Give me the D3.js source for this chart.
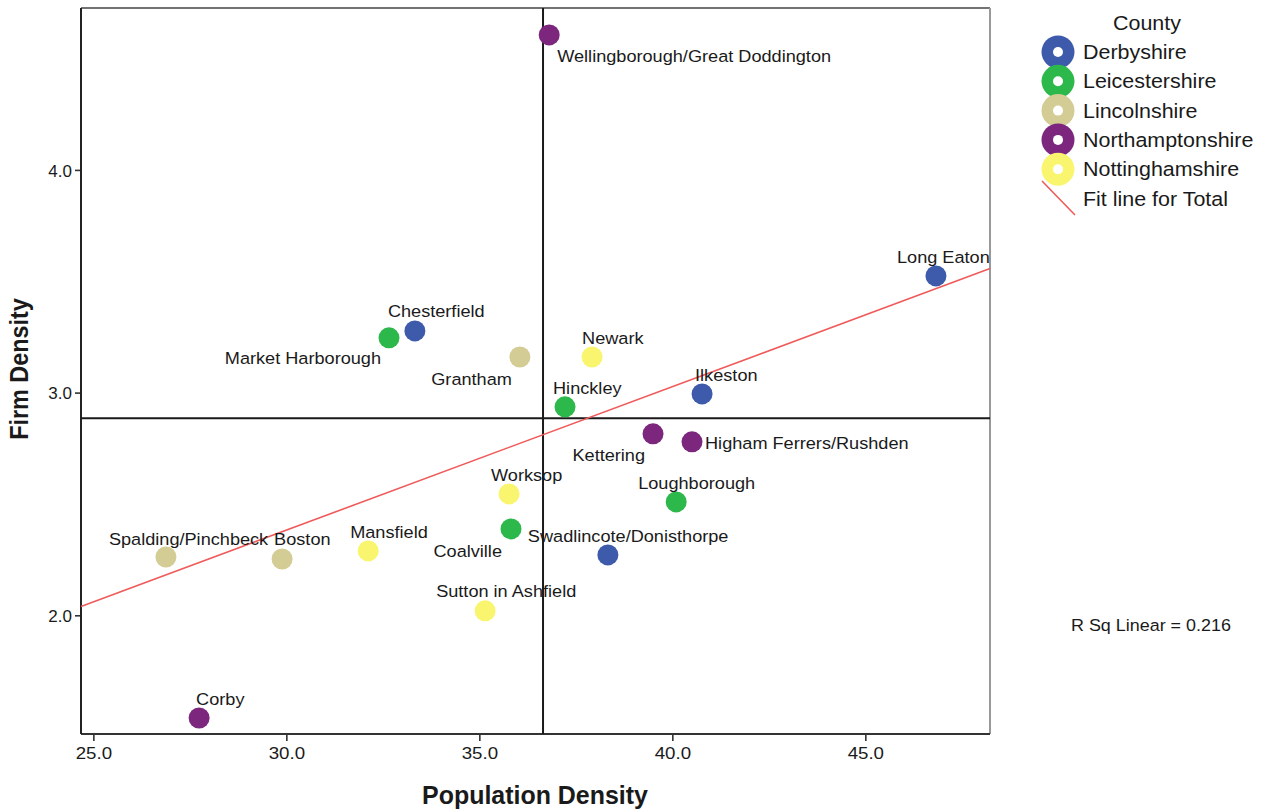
<!DOCTYPE html>
<html>
<head>
<meta charset="utf-8">
<script src="https://cdn.jsdelivr.net/npm/d3@7"></script>
<style>
  html, body { margin: 0; padding: 0; background: #fff; }
  svg { display: block; }
  text { font-family: "Liberation Sans", Arial, sans-serif; fill: #1a1a1a; }
</style>
</head>
<body>
<svg id="chart" width="1264" height="812"></svg>
<script>
// Towns of the East Midlands: population density vs firm density
const towns = ["Wellingborough/Great Doddington", "Long Eaton", "Chesterfield", "Market Harborough",
  "Grantham", "Newark", "Hinckley", "Ilkeston", "Kettering", "Higham Ferrers/Rushden",
  "Worksop", "Loughborough", "Coalville", "Swadlincote/Donisthorpe", "Spalding/Pinchbeck",
  "Boston", "Mansfield", "Sutton in Ashfield", "Corby"];
const county = ["Northamptonshire", "Derbyshire", "Derbyshire", "Leicestershire",
  "Lincolnshire", "Nottinghamshire", "Leicestershire", "Derbyshire", "Northamptonshire", "Northamptonshire",
  "Nottinghamshire", "Leicestershire", "Leicestershire", "Derbyshire", "Lincolnshire",
  "Lincolnshire", "Nottinghamshire", "Nottinghamshire", "Northamptonshire"];
const populationDensity = [36.81, 46.83, 33.33, 32.66, 36.05, 37.92, 37.22, 40.77, 39.50, 40.51,
  35.77, 40.10, 35.82, 38.33, 26.88, 29.89, 32.12, 35.15, 27.74];
const firmDensity = [4.606, 3.524, 3.277, 3.246, 3.160, 3.160, 2.936, 2.994, 2.815, 2.779,
  2.545, 2.509, 2.388, 2.271, 2.262, 2.253, 2.289, 2.020, 1.539];

const counties = ["Derbyshire", "Leicestershire", "Lincolnshire", "Northamptonshire", "Nottinghamshire"];
const xTicks = [25, 30, 35, 40, 45];
const yTicks = [2, 3, 4];
// reference lines (overall means of the wider region)
const xReference = 36.65;
const yReference = 2.885;

// label placement relative to each point: [dx, dy, anchor]
const labelPlacement = [[8, 27, "start"], [-39, -13, "start"], [-27, -14, "start"], [-8, 26, "end"],
  [-8, 28, "end"], [-10, -13, "start"], [-12, -13, "start"], [-7, -13, "start"], [-8, 27, "end"], [13, 7, "start"],
  [-18, -13, "start"], [-38, -13, "start"], [-9, 28, "end"], [-80, -13, "start"], [-57, -12, "start"],
  [-8, -14, "start"], [-18, -13, "start"], [-49, -14, "start"], [-3, -13, "start"]];

const colour = d3.scaleOrdinal()
  .domain(counties)
  .range(["#3e5aab", "#2db84b", "#d3cc95", "#7c267e", "#faf56e"]);

const SX = 1.1; // horizontal stretch of the typography
const svg = d3.select("#chart");
const plot = { left: 81, top: 8, right: 990, bottom: 734 };

const x = d3.scaleLinear().domain([24.68, 48.23]).range([plot.left, plot.right]);
const y = d3.scaleLinear().domain([1.467, 4.727]).range([plot.bottom, plot.top]);

function stretchedText(sel, tx, ty, str, size, anchor, weight, sx) {
  const g = sel.append("g").attr("transform", `translate(${tx},${ty})`);
  const t = g.append("text")
    .attr("transform", `scale(${sx || SX},1)`)
    .attr("text-anchor", anchor || "start")
    .style("font-size", size + "px")
    .text(str);
  if (weight) t.style("font-weight", weight);
  return g;
}

// Axes
const xAxis = svg.append("g")
  .attr("transform", `translate(0,${plot.bottom})`)
  .call(d3.axisBottom(x).tickValues(xTicks).tickFormat(d3.format(".1f")).tickSize(7).tickPadding(6));
const yAxis = svg.append("g")
  .attr("transform", `translate(${plot.left},0)`)
  .call(d3.axisLeft(y).tickValues(yTicks).tickFormat(d3.format(".1f")).tickSize(6).tickPadding(3));
[xAxis, yAxis].forEach(a => {
  a.select(".domain").remove();
  a.selectAll(".tick line").attr("stroke", "#333").attr("stroke-width", 1.6);
  a.selectAll(".tick text")
    .style("font-size", "17px")
    .style("font-family", "'Liberation Sans', Arial, sans-serif")
    .attr("fill", "#1a1a1a");
});
xAxis.selectAll(".tick text").attr("transform", `scale(${SX},1)`);
yAxis.selectAll(".tick text").attr("dy", "0.36em");

// Frame
svg.append("line").attr("x1", plot.left).attr("x2", plot.right).attr("y1", plot.top).attr("y2", plot.top)
  .attr("stroke", "#444").attr("stroke-width", 1.5);
svg.append("line").attr("x1", plot.right).attr("x2", plot.right).attr("y1", plot.top).attr("y2", plot.bottom)
  .attr("stroke", "#999").attr("stroke-width", 2);
svg.append("line").attr("x1", plot.left).attr("x2", plot.right).attr("y1", plot.bottom).attr("y2", plot.bottom)
  .attr("stroke", "#333").attr("stroke-width", 2);
svg.append("line").attr("x1", plot.left).attr("x2", plot.left).attr("y1", plot.top).attr("y2", plot.bottom)
  .attr("stroke", "#222").attr("stroke-width", 2);

// Reference lines
svg.append("line").attr("x1", x(xReference)).attr("x2", x(xReference)).attr("y1", plot.top).attr("y2", plot.bottom)
  .attr("stroke", "#1a1a1a").attr("stroke-width", 2);
svg.append("line").attr("x1", plot.left).attr("x2", plot.right).attr("y1", y(yReference)).attr("y2", y(yReference))
  .attr("stroke", "#1a1a1a").attr("stroke-width", 2);

// Least-squares fit for all towns
const mx = d3.mean(populationDensity), my = d3.mean(firmDensity);
let sxy = 0, sxx = 0, syy = 0;
populationDensity.forEach((v, i) => {
  sxy += (v - mx) * (firmDensity[i] - my);
  sxx += (v - mx) ** 2;
  syy += (firmDensity[i] - my) ** 2;
});
const slope = sxy / sxx, intercept = my - slope * mx, r2 = sxy * sxy / (sxx * syy);
const [x0, x1] = x.domain();
svg.append("line")
  .attr("x1", x(x0)).attr("y1", y(intercept + slope * x0))
  .attr("x2", x(x1)).attr("y2", y(intercept + slope * x1))
  .attr("stroke", "#f05a5a").attr("stroke-width", 1.6);

// Points
const data = towns.map((t, i) => ({ name: t, county: county[i], px: populationDensity[i], fy: firmDensity[i], lp: labelPlacement[i] }));
svg.append("g").selectAll("circle").data(data).join("circle")
  .attr("cx", d => x(d.px)).attr("cy", d => y(d.fy)).attr("r", 10.5)
  .attr("fill", d => colour(d.county));

// Point labels
const labels = svg.append("g");
data.forEach(d => stretchedText(labels, x(d.px) + d.lp[0], y(d.fy) + d.lp[1], d.name, 16.5, d.lp[2]));

// R squared note
stretchedText(svg, 1071, 631, `R Sq Linear = ${r2.toFixed(3)}`, 16.3, "start");

// Axis titles
stretchedText(svg, 535, 804, "Population Density", 26, "middle", "bold", 0.96);
const yt = svg.append("g").attr("transform", "translate(28,369) rotate(-90)");
yt.append("text").attr("text-anchor", "middle").attr("transform", "scale(0.9,1)")
  .style("font-size", "26px").style("font-weight", "bold")
  .text("Firm Density");

// Legend
const legend = svg.append("g");
stretchedText(legend, 1147, 30, "County", 19.5, "middle");
counties.forEach((c, i) => {
  const cy = 52 + i * 29.3;
  legend.append("circle").attr("cx", 1058).attr("cy", cy).attr("r", 16.5).attr("fill", colour(c));
  legend.append("circle").attr("cx", 1058).attr("cy", cy).attr("r", 5).attr("fill", "#fff");
  stretchedText(legend, 1083, cy + 7, c, 19.5, "start");
});
legend.append("line").attr("x1", 1042).attr("y1", 181).attr("x2", 1075).attr("y2", 215)
  .attr("stroke", "#f05a5a").attr("stroke-width", 1.6);
stretchedText(legend, 1083, 206, "Fit line for Total", 19.5, "start");
</script>
</body>
</html>
